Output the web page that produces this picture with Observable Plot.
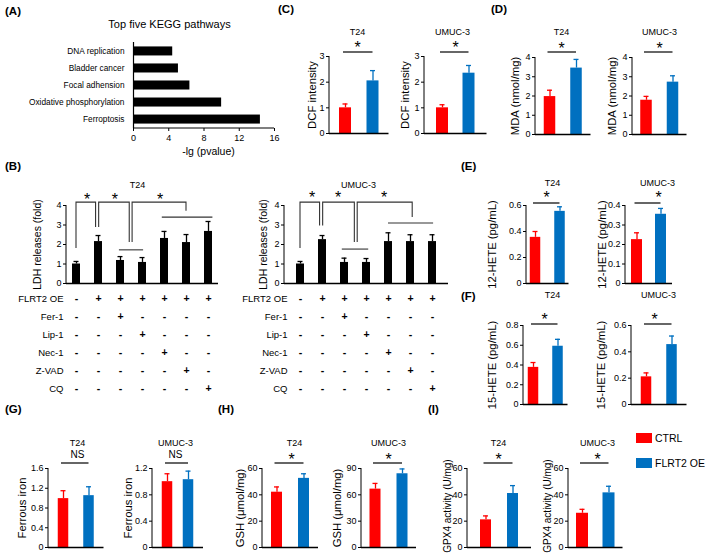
<!DOCTYPE html>
<html><head><meta charset="utf-8">
<script src="https://cdn.jsdelivr.net/npm/d3@7"></script>
<script src="https://cdn.jsdelivr.net/npm/@observablehq/plot@0.6"></script>
<style>
body{margin:0;background:#fff;}
#fig{position:relative;width:709px;height:559px;overflow:hidden;background:#fff;font-family:"Liberation Sans",Arial,Helvetica,sans-serif;color:#000;}
.plab{position:absolute;font-weight:bold;font-size:11.5px;line-height:1;transform:translateY(-50%);}
.leg{position:absolute;font-size:10.5px;line-height:1;transform:translateY(-50%);}
.sw{position:absolute;}
</style></head><body><div id="fig"></div>
<script>
// ---------- DATA ----------
const keggPathways = ["DNA replication", "Bladder cancer", "Focal adhension", "Oxidative phosphorylation", "Ferroptosis"];
const keggLogP = [4.45, 5.1, 6.4, 10.0, 14.4];
const keggTicks = [0, 4, 8, 12, 16];

const groups = ["CTRL", "FLRT2 OE"];
const groupColors = ["#ff0000", "#0070c0"];

const dcfT24 = [1.0, 2.05], dcfT24Err = [1.15, 2.45];
const dcfUMUC = [1.0, 2.35], dcfUMUCErr = [1.12, 2.65];
const dcfTicks = [0, 1, 2, 3];

const mdaT24 = [1.97, 3.45], mdaT24Err = [2.3, 3.9];
const mdaUMUC = [1.78, 2.72], mdaUMUCErr = [1.98, 3.05];
const mdaTicks = [0, 1, 2, 3, 4];

const hete12T24 = [0.355, 0.555], hete12T24Err = [0.40, 0.59];
const hete12T24Ticks = [0, 0.2, 0.4, 0.6];
const hete12UMUC = [0.225, 0.355], hete12UMUCErr = [0.26, 0.385];
const hete12UMUCTicks = [0, 0.1, 0.2, 0.3, 0.4];

const hete15T24 = [0.376, 0.59], hete15T24Err = [0.425, 0.66];
const hete15T24Ticks = [0, 0.2, 0.4, 0.6, 0.8];
const hete15UMUC = [0.21, 0.455], hete15UMUCErr = [0.24, 0.52];
const hete15UMUCTicks = [0, 0.2, 0.4, 0.6];

const ironT24 = [0.99, 1.05], ironT24Err = [1.15, 1.23];
const ironT24Ticks = [0, 0.4, 0.8, 1.2, 1.6];
const ironUMUC = [1.0, 1.03], ironUMUCErr = [1.12, 1.16];
const ironUMUCTicks = [0, 0.4, 0.8, 1.2];

const gshT24 = [42, 52.5], gshT24Err = [46, 56];
const gshT24Ticks = [0, 20, 40, 60];
const gshUMUC = [66.5, 84], gshUMUCErr = [73, 89.5];
const gshUMUCTicks = [0, 30, 60, 90];

const gpx4T24 = [21, 41], gpx4T24Err = [24, 47];
const gpx4UMUC = [26, 41.5], gpx4UMUCErr = [29, 46.5];
const gpx4Ticks = [0, 20, 40, 60];

const ldhConditions = ["CTRL", "FLRT2 OE", "OE+Fer-1", "OE+Lip-1", "OE+Nec-1", "OE+Z-VAD", "OE+CQ"];
const ldhT24 = [1.0, 2.15, 1.18, 1.08, 2.31, 2.1, 2.67];
const ldhT24Err = [1.13, 2.46, 1.38, 1.33, 2.67, 2.51, 3.18];
const ldhUMUC = [1.0, 2.25, 1.08, 1.08, 2.15, 2.15, 2.15];
const ldhUMUCErr = [1.13, 2.46, 1.3, 1.28, 2.6, 2.5, 2.5];
const ldhTicks = [0, 1, 2, 3, 4];
const treatments = ["FLRT2 OE", "Fer-1", "Lip-1", "Nec-1", "Z-VAD", "CQ"];
const treatmentSigns = ["-++++++", "--+----", "---+---", "----+--", "-----+-", "------+"];

// significance brackets (x in bar-index units, y in data units)
const ldhT24Brackets = [
  {from: 0, fromY: 1.8, to: 0.89, toY: 2.87, top: 4.15},
  {from: 1.03, fromY: 2.87, to: 2.42, toY: 2.1, top: 4.15},
  {from: 2.55, fromY: 2.1, to: 5.0, toY: 3.7, top: 4.15}
];
const ldhT24Lines = [{from: 1.95, to: 3.05, y: 1.7}, {from: 3.9, to: 6.2, y: 3.38}];
const ldhT24Stars = [{at: 0.5, y: 4.5}, {at: 1.77, y: 4.5}, {at: 3.82, y: 4.5}];
const ldhUMUCBrackets = [
  {from: 0, fromY: 1.8, to: 0.89, toY: 2.95, top: 4.15},
  {from: 1.03, fromY: 2.95, to: 2.47, toY: 2.1, top: 4.15},
  {from: 2.6, fromY: 2.1, to: 5.1, toY: 3.38, top: 4.15}
];
const ldhUMUCLines = [{from: 1.9, to: 3.1, y: 1.74}, {from: 4.0, to: 6.05, y: 3.08}];
const ldhUMUCStars = [{at: 0.55, y: 4.6}, {at: 1.73, y: 4.6}, {at: 3.82, y: 4.6}];

// ---------- HELPERS ----------
const FONT = '"Liberation Sans", Arial, Helvetica, sans-serif';
const baseStyle = {fontFamily: FONT, fontSize: "9px", overflow: "visible", background: "transparent", color: "black"};
const fmt = d => String(+(+d).toFixed(3));
const fig = document.getElementById("fig");
function place(node, left, top) {
  node.style.position = "absolute";
  node.style.left = left + "px";
  node.style.top = top + "px";
  node.style.maxWidth = "none";
  fig.appendChild(node);
}
const bwOf = s => typeof s.bandwidth === "function" ? s.bandwidth() : (s.bandwidth || 0);
function band(axisX, c0, step, bw, n) {
  const pi = 1 - bw / step, po = (c0 - axisX - bw / 2) / step;
  return {pi, po, width: step * (n - pi + 2 * po)};
}
function lineMark(fn, sw = 1, color = "black") {
  return (index, scales, values, dims) => {
    const g = d3.create("svg:g").attr("stroke", color).attr("stroke-width", sw).attr("fill", "none");
    for (const pts of fn(scales, dims)) {
      g.append("path").attr("d", "M" + pts.map(p => p.join(",")).join("L"));
    }
    return g.node();
  };
}
const leftAxisLine = lineMark((s, d) => [[[d.marginLeft, d.marginTop], [d.marginLeft, d.height - d.marginBottom]]], 1);

function twoBar(L, values, errors, ticks, ylabel, title, sig) {
  const ymax = ticks[ticks.length - 1];
  const b = band(L.axisX, L.c1, L.c2 - L.c1, L.bw, 2);
  const ml = L.axisX - L.labelX + 9, mt = L.yTop - L.titleY + 8, mr = 6, mb = 3;
  const fh = L.y0 - L.yTop;
  const data = groups.map((g, i) => ({group: g, value: values[i], upper: errors[i], color: groupColors[i]}));
  const cap = Math.max(0, (L.bw - 5) / 2);
  const star = sig === "*";
  const svg = Plot.plot({
    width: ml + b.width + mr, height: mt + fh + mb,
    marginLeft: ml, marginRight: mr, marginTop: mt, marginBottom: mb,
    style: baseStyle,
    x: {type: "band", domain: groups, paddingInner: b.pi, paddingOuter: b.po, round: false, axis: null},
    y: {domain: [0, ymax], ticks: ticks, tickFormat: fmt, tickSize: 3, tickPadding: 2, label: null},
    color: {type: "identity"},
    marks: [
      Plot.barY(data, {x: "group", y: "value", fill: "color"}),
      Plot.ruleX(data, {x: "group", y1: "value", y2: "upper", stroke: "color", strokeWidth: 1.3}),
      Plot.tickY(data, {x: "group", y: "upper", stroke: "color", strokeWidth: 1.3, insetLeft: cap, insetRight: cap}),
      leftAxisLine,
      Plot.ruleY([0], {strokeWidth: 1.5}),
      Plot.text([ylabel], {frameAnchor: "left", rotate: -90, dx: L.labelX - L.axisX, dy: L.labelDy || 0, textAnchor: "middle", lineAnchor: "middle", fontSize: L.labelSize || 11.3}),
      Plot.text([title], {frameAnchor: "top-left", dx: L.titleX - L.axisX, dy: L.titleY - L.yTop, textAnchor: "middle", lineAnchor: "middle", fontSize: 9}),
      Plot.text([sig], {frameAnchor: "top-left", dx: L.sigX - L.axisX, dy: L.sigY - L.yTop + (star ? 4.2 : 0), textAnchor: "middle", lineAnchor: "middle", fontSize: star ? 16 : 10}),
      lineMark((s, d) => {
        const bw = bwOf(s.x), y = d.marginTop + L.lineY - L.yTop;
        return [[[s.x(groups[0]) + bw / 2 - 2, y], [s.x(groups[1]) + bw / 2, y]]];
      }, 1.2)
    ]
  });
  place(svg, L.axisX - ml, L.yTop - mt);
}

function ldhPanel(L, values, errors, brackets, lines, stars, title) {
  const b = band(L.axisX, L.c0, L.step, L.bw, 7);
  const ml = L.axisX - L.labelX + 9, mt = L.yTop - L.titleY + 8, mr = 6, mb = 3;
  const fh = L.y0 - L.yTop;
  const data = ldhConditions.map((c, i) => ({cond: c, value: values[i], upper: errors[i]}));
  const cap = (L.bw - 5) / 2;
  const px = (s, k) => { const bw = bwOf(s.x); const x0 = s.x(ldhConditions[0]) + bw / 2; return x0 + k * (s.x(ldhConditions[1]) - s.x(ldhConditions[0])); };
  const svg = Plot.plot({
    width: ml + b.width + mr, height: mt + fh + mb,
    marginLeft: ml, marginRight: mr, marginTop: mt, marginBottom: mb,
    style: baseStyle,
    x: {type: "band", domain: ldhConditions, paddingInner: b.pi, paddingOuter: b.po, round: false, axis: null},
    y: {domain: [0, 4], ticks: ldhTicks, tickFormat: fmt, tickSize: 3, tickPadding: 2, label: null},
    marks: [
      Plot.barY(data, {x: "cond", y: "value", fill: "black"}),
      Plot.ruleX(data, {x: "cond", y1: "value", y2: "upper", stroke: "black", strokeWidth: 1.3}),
      Plot.tickY(data, {x: "cond", y: "upper", stroke: "black", strokeWidth: 1.3, insetLeft: cap, insetRight: cap}),
      leftAxisLine,
      Plot.ruleY([0], {strokeWidth: 1.5}),
      lineMark(s => brackets.map(k => [[px(s, k.from), s.y(k.fromY)], [px(s, k.from), s.y(k.top)], [px(s, k.to), s.y(k.top)], [px(s, k.to), s.y(k.toY)]]), 1.1, "#333"),
      lineMark(s => lines.map(k => [[px(s, k.from), s.y(k.y)], [px(s, k.to), s.y(k.y)]]), 1.1, "#333"),
      (index, s) => {
        const g = d3.create("svg:g").attr("font-size", 16).attr("text-anchor", "middle");
        for (const st of stars) g.append("text").attr("x", px(s, st.at)).attr("y", s.y(st.y)).attr("dy", "0.58em").text("*");
        return g.node();
      },
      Plot.text(["LDH releases (fold)"], {frameAnchor: "left", rotate: -90, dx: L.labelX - L.axisX, textAnchor: "middle", lineAnchor: "middle", fontSize: 10.5}),
      Plot.text([title], {frameAnchor: "top-left", dx: L.titleX - L.axisX, dy: L.titleY - L.yTop, textAnchor: "middle", lineAnchor: "middle", fontSize: 9})
    ]
  });
  place(svg, L.axisX - ml, L.yTop - mt);

  // treatment table under the bars, sharing the same x band layout
  const cells = treatments.flatMap((t, r) => ldhConditions.map((c, i) => ({row: t, cond: c, sign: treatmentSigns[r][i]})));
  const tml = L.axisX - L.tableLeft, tmt = 8, tmb = 8;
  const tbl = Plot.plot({
    width: tml + b.width + mr, height: tmt + (L.rowLast - L.rowFirst) + tmb,
    marginLeft: tml, marginRight: mr, marginTop: tmt, marginBottom: tmb,
    style: baseStyle,
    x: {type: "band", domain: ldhConditions, paddingInner: b.pi, paddingOuter: b.po, round: false, axis: null},
    y: {type: "point", domain: treatments, padding: 0, axis: null},
    marks: [
      Plot.text(cells, {x: "cond", y: "row", text: "sign", fontSize: 10.5, fontWeight: "bold"}),
      Plot.text(treatments, {x: () => ldhConditions[0], y: d => d, dx: -13, textAnchor: "end", fontSize: 9.5})
    ]
  });
  place(tbl, L.axisX - tml, L.rowFirst - tmt);
}

// ---------- PANEL A ----------
(function () {
  const data = keggPathways.map((p, i) => ({pathway: p, value: keggLogP[i]}));
  const ml = 133, mt = 30, mb = 30, mr = 14;
  const svg = Plot.plot({
    width: ml + 141 + mr, height: mt + 86 + mb,
    marginLeft: ml, marginRight: mr, marginTop: mt, marginBottom: mb,
    style: baseStyle,
    x: {domain: [0, 16], ticks: keggTicks, tickSize: 3, tickPadding: 3, label: null},
    y: {type: "band", domain: keggPathways, paddingInner: 0.47, paddingOuter: 0.26, round: false, axis: null},
    marks: [
      Plot.barX(data, {y: "pathway", x: "value", fill: "black"}),
      Plot.text(data, {y: "pathway", text: "pathway", frameAnchor: "left", dx: -9, textAnchor: "end", fontSize: 8.3}),
      Plot.ruleX([0], {strokeWidth: 1.2}),
      lineMark((s, d) => [[[d.marginLeft, d.height - d.marginBottom], [d.width - d.marginRight, d.height - d.marginBottom]]], 1.2),
      Plot.text(["Top five KEGG pathways"], {frameAnchor: "top-left", dx: 169 - 133, dy: 24 - 42, textAnchor: "middle", lineAnchor: "middle", fontSize: 11}),
      Plot.text(["-lg (pvalue)"], {frameAnchor: "bottom-left", dx: 208 - 133, dy: 151 - 128, textAnchor: "middle", lineAnchor: "middle", fontSize: 10.5})
    ]
  });
  place(svg, 0, 42 - mt);
})();

// ---------- PANEL B ----------
ldhPanel({axisX: 66, y0: 283, yTop: 205, c0: 76, step: 22, bw: 8, labelX: 37, titleX: 137, titleY: 185, tableLeft: 0, rowFirst: 298, rowLast: 388},
  ldhT24, ldhT24Err, ldhT24Brackets, ldhT24Lines, ldhT24Stars, "T24");
ldhPanel({axisX: 284, y0: 283, yTop: 205, c0: 300, step: 22, bw: 8, labelX: 263, titleX: 358, titleY: 185, tableLeft: 225, rowFirst: 298, rowLast: 388},
  ldhUMUC, ldhUMUCErr, ldhUMUCBrackets, ldhUMUCLines, ldhUMUCStars, "UMUC-3");

// ---------- PANEL C ----------
twoBar({axisX: 329, y0: 133, yTop: 56, c1: 345, c2: 372.5, bw: 12, labelX: 312, titleX: 357, titleY: 32, sigX: 357, sigY: 43, lineY: 52},
  dcfT24, dcfT24Err, dcfTicks, "DCF intensity", "T24", "*");
twoBar({axisX: 424, y0: 133, yTop: 56, c1: 442, c2: 468.5, bw: 12, labelX: 405, titleX: 452, titleY: 32, sigX: 455, sigY: 43, lineY: 52},
  dcfUMUC, dcfUMUCErr, dcfTicks, "DCF intensity", "UMUC-3", "*");

// ---------- PANEL D ----------
twoBar({axisX: 535, y0: 134, yTop: 57, c1: 549.5, c2: 576, bw: 11.5, labelX: 515, titleX: 561, titleY: 32, sigX: 561, sigY: 44, lineY: 52},
  mdaT24, mdaT24Err, mdaTicks, "MDA (nmol/mg)", "T24", "*");
twoBar({axisX: 632, y0: 134, yTop: 57, c1: 646, c2: 672.5, bw: 11.5, labelX: 612, titleX: 659, titleY: 32, sigX: 659, sigY: 44, lineY: 52},
  mdaUMUC, mdaUMUCErr, mdaTicks, "MDA (nmol/mg)", "UMUC-3", "*");

// ---------- PANEL E ----------
twoBar({axisX: 526, y0: 283, yTop: 205, c1: 535, c2: 559.5, bw: 10.5, labelX: 492, titleX: 552, titleY: 183, sigX: 546, sigY: 193, lineY: 203},
  hete12T24, hete12T24Err, hete12T24Ticks, "12-HETE (pg/mL)", "T24", "*");
twoBar({axisX: 625, y0: 283, yTop: 205, c1: 636.5, c2: 660.5, bw: 11, labelX: 602, titleX: 657, titleY: 183, sigX: 658, sigY: 193, lineY: 203},
  hete12UMUC, hete12UMUCErr, hete12UMUCTicks, "12-HETE (pg/mL)", "UMUC-3", "*");

// ---------- PANEL F ----------
twoBar({axisX: 523, y0: 404, yTop: 325, c1: 533, c2: 557.5, bw: 10.5, labelX: 492, titleX: 552, titleY: 295, sigX: 544, sigY: 315, lineY: 324},
  hete15T24, hete15T24Err, hete15T24Ticks, "15-HETE (pg/mL)", "T24", "*");
twoBar({axisX: 631, y0: 404, yTop: 325, c1: 646, c2: 671.5, bw: 10.5, labelX: 601, titleX: 658, titleY: 295, sigX: 654, sigY: 315, lineY: 324},
  hete15UMUC, hete15UMUCErr, hete15UMUCTicks, "15-HETE (pg/mL)", "UMUC-3", "*");

// ---------- PANEL G ----------
twoBar({axisX: 48, y0: 547, yTop: 468, c1: 63, c2: 88.5, bw: 10.5, labelX: 22, titleX: 77, titleY: 443, sigX: 77, sigY: 454, lineY: 463},
  ironT24, ironT24Err, ironT24Ticks, "Ferrous iron", "T24", "NS");
twoBar({axisX: 152, y0: 547, yTop: 468, c1: 167, c2: 188, bw: 10.5, labelX: 128, titleX: 175, titleY: 443, sigX: 175, sigY: 454, lineY: 463},
  ironUMUC, ironUMUCErr, ironUMUCTicks, "Ferrous iron", "UMUC-3", "NS");

// ---------- PANEL H ----------
twoBar({axisX: 262, y0: 547, yTop: 468, c1: 276.5, c2: 303.5, bw: 11, labelX: 240, titleX: 294, titleY: 443, sigX: 291, sigY: 455, lineY: 463},
  gshT24, gshT24Err, gshT24Ticks, "GSH (\u03bcmol/mg)", "T24", "*");
twoBar({axisX: 361, y0: 547, yTop: 468, c1: 375, c2: 402, bw: 11, labelX: 337, titleX: 388, titleY: 443, sigX: 388, sigY: 455, lineY: 463},
  gshUMUC, gshUMUCErr, gshUMUCTicks, "GSH (\u03bcmol/mg)", "UMUC-3", "*");

// ---------- PANEL I ----------
twoBar({axisX: 467, y0: 547, yTop: 468, c1: 485.5, c2: 512.5, bw: 11, labelX: 447, titleX: 498, titleY: 443, sigX: 498, sigY: 455, lineY: 463, labelSize: 10, labelDy: -2},
  gpx4T24, gpx4T24Err, gpx4Ticks, "GPX4 activity (U/mg)", "T24", "*");
twoBar({axisX: 568, y0: 547, yTop: 468, c1: 582, c2: 608.5, bw: 12, labelX: 547, titleX: 597, titleY: 443, sigX: 597, sigY: 455, lineY: 463, labelSize: 10, labelDy: -2},
  gpx4UMUC, gpx4UMUCErr, gpx4Ticks, "GPX4 activity (U/mg)", "UMUC-3", "*");

// ---------- PANEL LABELS & LEGEND ----------
const panelLabels = [["(A)", 5, 12], ["(B)", 5, 167], ["(C)", 278, 10], ["(D)", 491, 10], ["(E)", 461, 167], ["(F)", 461, 297], ["(G)", 5, 410], ["(H)", 218, 410], ["(I)", 428, 410]];
for (const [t, x, y] of panelLabels) {
  const s = document.createElement("span"); s.className = "plab"; s.textContent = t;
  s.style.left = x + "px"; s.style.top = y + "px"; fig.appendChild(s);
}
const legendItems = [[groups[0], groupColors[0], 433, 438], [groups[1], groupColors[1], 458, 463]];
for (const [t, c, sy, ty] of legendItems) {
  const sw = document.createElement("div"); sw.className = "sw";
  Object.assign(sw.style, {left: "636px", top: sy + "px", width: "16px", height: "10px", background: c});
  fig.appendChild(sw);
  const s = document.createElement("span"); s.className = "leg"; s.textContent = t;
  s.style.left = "655px"; s.style.top = ty + "px"; fig.appendChild(s);
}
</script></body></html>
